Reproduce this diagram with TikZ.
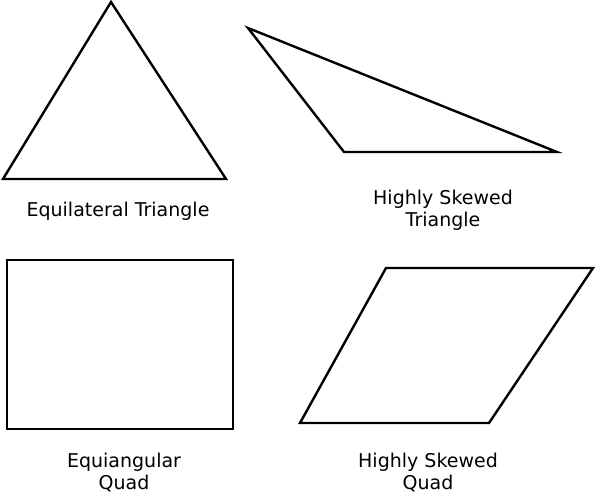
\documentclass[tikz,border=0pt]{standalone}
\usepackage{fontspec}
\setmainfont{DejaVu Sans}
\usetikzlibrary{positioning}

\begin{document}
\begin{tikzpicture}[x=1pt, y=-1pt, line join=miter,
                    edge line/.style={draw, line width=2.4pt},
                    label node/.style={font=\fontsize{19}{22}\selectfont, align=center, inner sep=0pt}]

  \useasboundingbox (0,0) rectangle (596,495);

  % equilateral triangle
  \coordinate (t1a) at (111,2);
  \coordinate (t1b) at (3,179);
  \coordinate (t1c) at (226,179);
  \path[edge line] (t1a) -- (t1b) -- (t1c) -- cycle;
  \node[label node] (l1) at (118,211) {Equilateral Triangle};

  % skewed triangle
  \coordinate (t2a) at (248,28);
  \coordinate (t2b) at (344,152);
  \coordinate (t2c) at (557,152);
  \path[edge line] (t2a) -- (t2b) -- (t2c) -- cycle;
  \node[label node] (l2) at (443,210) {Highly Skewed\\Triangle};

  % rectangle
  \coordinate (q1a) at (7,260);
  \coordinate (q1b) at (233,429);
  \path[edge line] (q1a) rectangle (q1b);
  \node[label node] (l3) at (124,472) {Equiangular\\Quad};

  % parallelogram
  \coordinate (q2a) at (386,268);
  \coordinate (q2b) at (593,268);
  \coordinate (q2c) at (489,423);
  \coordinate (q2d) at (300,423);
  \path[edge line] (q2a) -- (q2b) -- (q2c) -- (q2d) -- cycle;
  \node[label node] (l4) at (428,472) {Highly Skewed\\Quad};

\end{tikzpicture}
\end{document}
